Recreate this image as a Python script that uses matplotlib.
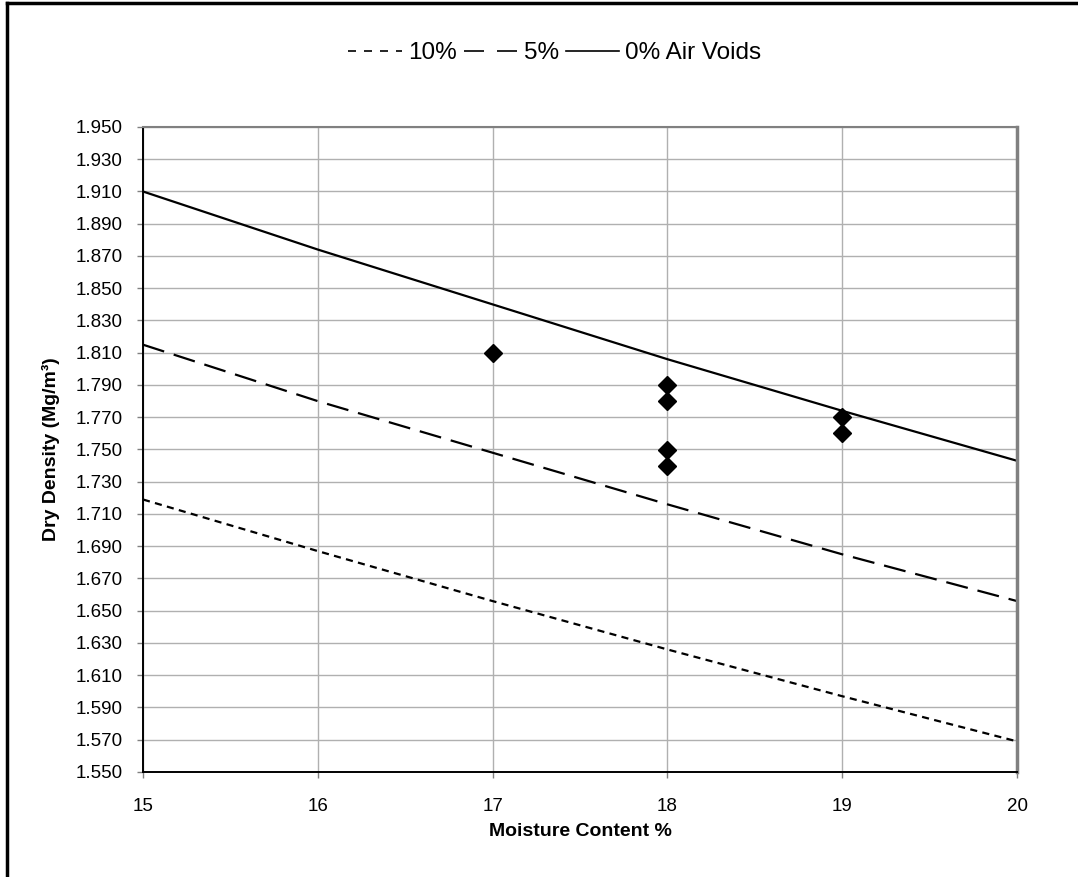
import numpy as np
import matplotlib.pyplot as plt
from matplotlib.lines import Line2D

plt.rcParams['font.family'] = ['Liberation Sans', 'DejaVu Sans']

# moisture content (%) for the air void lines
mc = [15, 16, 17, 18, 19, 20]
av_0 = [1.910, 1.874, 1.840, 1.806, 1.774, 1.743]
av_5 = [1.815, 1.780, 1.748, 1.716, 1.685, 1.656]
av_10 = [1.719, 1.687, 1.656, 1.626, 1.597, 1.569]

# test points
pt_mc = [17, 18, 18, 18, 18, 19, 19]
pt_dd = [1.810, 1.790, 1.780, 1.750, 1.740, 1.770, 1.760]

yticks = np.arange(1.55, 1.9501, 0.02)

fig = plt.figure(figsize=(10.78, 8.77), dpi=100)
ax = fig.add_axes([143/1078, 105/877, (1017-143)/1078, (772-127)/877])

ax.plot(mc, av_10, color='black', lw=1.6, dashes=(3.2, 2.4))
ax.plot(mc, av_5, color='black', lw=1.6, dashes=(10, 4.5))
ax.plot(mc, av_0, color='black', lw=1.6)
ax.plot(pt_mc, pt_dd, ls='none', marker='D', ms=9.5, color='black', zorder=5)

ax.set_xlim(15, 20)
ax.set_ylim(1.55, 1.95)
ax.set_xticks(mc)
ax.set_yticks(yticks)
ax.set_yticklabels(['%.3f' % v for v in yticks])
ax.grid(True, color='#b0b0b0', lw=1)
ax.set_axisbelow(True)
ax.tick_params(labelsize=13.5, length=4.5, width=1, color='#808080')
ax.tick_params(axis='x', pad=14)
ax.tick_params(axis='y', pad=10)
for s in ['left', 'bottom']:
    ax.spines[s].set_color('black')
    ax.spines[s].set_linewidth(1.4)
ax.spines['top'].set_color('#808080')
ax.spines['top'].set_linewidth(1.5)
ax.spines['right'].set_color('#808080')
ax.spines['right'].set_linewidth(2.5)

ax.set_xlabel('Moisture Content %', fontsize=14, fontweight='bold', labelpad=6)
ax.set_ylabel('Dry Density (Mg/m³)', fontsize=14, fontweight='bold', labelpad=11)

handles = [Line2D([], [], color='black', lw=1.2, dashes=(4.8, 4.8)),
           Line2D([], [], color='black', lw=1.2, dashes=(12, 7.8)),
           Line2D([], [], color='black', lw=1.2)]
fig.legend(handles, ['10%', '5%', '0% Air Voids'], loc='center',
           bbox_to_anchor=(555/1078, 1 - 53/877), ncol=3, frameon=False,
           fontsize=17.5, handlelength=2.2, handletextpad=0.25, columnspacing=0.3)

# frame lines at left/top edge of the picture
fig.add_artist(Line2D([7/1078, 7/1078], [0, 1 - 3/877], color='black', lw=2.5))
fig.add_artist(Line2D([7/1078, 1], [1 - 3/877, 1 - 3/877], color='black', lw=2.5))

fig.savefig('out.png', dpi=100)
